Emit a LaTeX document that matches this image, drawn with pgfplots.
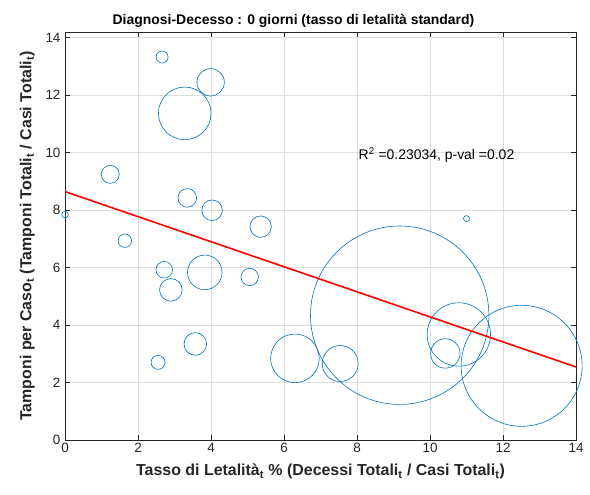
\documentclass[border=0pt]{standalone}
\usepackage{pgfplots}
\pgfplotsset{compat=1.18}
\usepackage{pgfplotstable}
\usepackage{fontspec}
\setmainfont{Liberation Sans}
\definecolor{mblue}{rgb}{0,0.447,0.741}
\definecolor{mgrid}{rgb}{0.87,0.87,0.87}
\definecolor{maxis}{rgb}{0.15,0.15,0.15}

% x = case fatality rate, y = swabs per case, r = bubble radius (bp)
\pgfplotstableread{
x     y     r
2.66  13.32 6.0
3.99  12.44 13.7
3.28  11.36 26.3
1.24  9.24  9.0
3.35  8.42  9.3
4.03  7.99  10.3
0.00  7.84  3.3
1.64  6.93  6.7
5.36  7.42  10.7
2.72  5.92  8.3
3.83  5.83  17.3
5.06  5.67  8.7
2.90  5.22  11.3
3.57  3.34  11.3
2.55  2.70  7.0
6.30  2.84  24.3
9.17  4.34  89.2
7.54  2.66  18.0
10.79 3.67  31.7
10.42 3.01  14.7
12.51 2.58  60.5
11.00 7.70  3.0
}\bubbles

\begin{document}
\begin{tikzpicture}
\useasboundingbox (-65bp,-55bp) rectangle (525bp,440bp);
\begin{axis}[
    scale only axis,
    width=511bp, height=408bp,
    xmin=0, xmax=14, ymin=0, ymax=14.19,
    xtick={0,2,...,14}, ytick={0,2,...,14},
    grid=major,
    major grid style={mgrid, line width=0.5bp},
    axis line style={maxis, line width=0.6bp},
    tick style={maxis, line width=0.6bp},
    tick align=inside,
    major tick length=5bp,
    xtick pos=both, ytick pos=both,
    tick label style={font=\fontsize{13.5}{15}\selectfont, text=maxis},
    yticklabel style={xshift=-1bp},
    /pgf/number format/assume math mode=true,
    title={\textbf{Diagnosi-Decesso : 0 giorni (tasso di letalità standard)}},
    title style={font=\fontsize{14}{16}\selectfont, yshift=-5bp, xshift=-27bp},
    xlabel={\textbf{Tasso di Letalità\textsubscript{t} \% (Decessi Totali\textsubscript{t} / Casi Totali\textsubscript{t})}},
    ylabel={\textbf{Tamponi per Caso\textsubscript{t} (Tamponi Totali\textsubscript{t} / Casi Totali\textsubscript{t})}},
    label style={font=\fontsize{16}{18}\selectfont, text=maxis},
    xlabel style={yshift=-4bp},
    ylabel style={yshift=4bp},
    clip mode=individual,
]
\addplot[only marks, mark=o, draw=mblue, line width=0.6bp,
    visualization depends on={\thisrow{r} \as \rad},
    scatter, scatter/use mapped color={draw=mblue},
    scatter/@pre marker code/.append style={/tikz/mark size=\rad bp},
] table[x=x, y=y] {\bubbles};
\addplot[red, line width=1.6bp] coordinates {(0,8.64) (14,2.54)};
\node[anchor=west, font=\fontsize{14}{16}\selectfont] at (axis cs:7.95,9.9) {R\textsuperscript{2} =0.23034, p-val =0.02};
\end{axis}
\end{tikzpicture}
\end{document}
